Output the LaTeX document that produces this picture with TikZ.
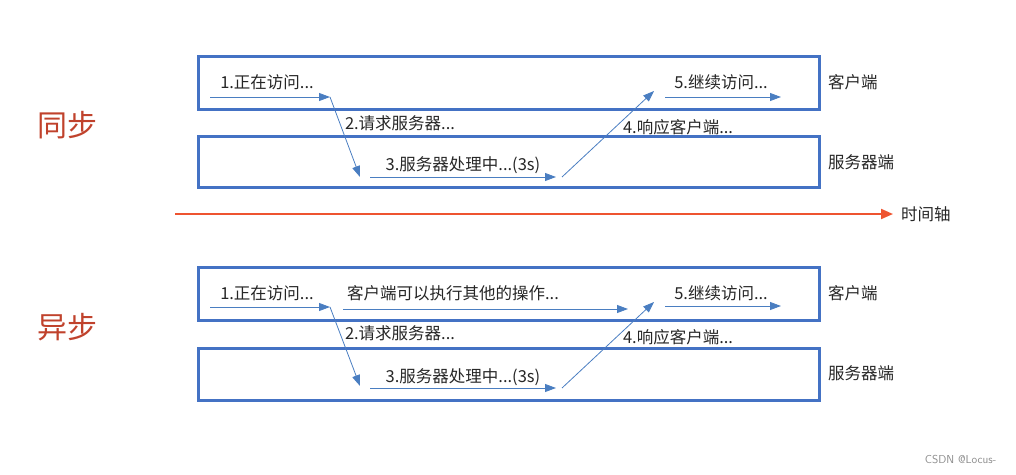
\documentclass[tikz,border=0pt]{standalone}
\usepackage{fontspec}
\newfontfamily\cjk{Noto Sans CJK SC}
\usetikzlibrary{arrows.meta}
\definecolor{laneblue}{RGB}{68,114,196}
\definecolor{flowblue}{RGB}{74,126,193}
\definecolor{axisred}{RGB}{238,84,48}
\definecolor{titlered}{RGB}{192,66,44}
\definecolor{textgray}{RGB}{38,38,38}

\begin{document}
\begin{tikzpicture}[x=1pt, y=-1pt,
                    lane/.style={draw=laneblue, line width=3pt, anchor=north west,
                                 inner sep=0pt, minimum width=621pt},
                    lbl/.style={font=\cjk\fontsize{16.5}{18}\selectfont, text=textgray, inner sep=0pt},
                    side/.style={lbl, anchor=west},
                    title/.style={font=\cjk\fontsize{30}{34}\selectfont, text=titlered, inner sep=0pt},
                    flow/.style={draw=flowblue, line width=0.8pt,
                                 -{Triangle[length=11pt,width=8pt,fill=flowblue]}}]

  \useasboundingbox (0,0) rectangle (1016,474);

  % synchronous
  \node[title] (sync) at (67,125) {同步};
  \node[lane, minimum height=53pt] (client1) at (197,55) {};
  \node[lane, minimum height=51pt] (server1) at (197,135) {};
  \node[side] (cname1) at (828,82) {客户端};
  \node[side] (sname1) at (828,162) {服务器端};

  \node[lbl] (visit1) at (267,82) {1.正在访问...};
  \node[lbl] (ask1) at (400,123) {2.请求服务器...};
  \node[lbl] (work1) at (463,165) {3.服务器处理中...(3s)};
  \node[lbl] (reply1) at (678,127) {4.响应客户端...};
  \node[lbl] (again1) at (721,82) {5.继续访问...};

  \coordinate (p1) at (210,97);
  \coordinate (p2) at (330,97);
  \coordinate (p3) at (360,177);
  \coordinate (p4) at (370,177);
  \coordinate (p5) at (556,177);
  \coordinate (p6) at (562,177);
  \coordinate (p7) at (654,91);
  \coordinate (p8) at (665,97);
  \coordinate (p9) at (781,97);

  \path
    (p1) edge[flow] (p2)
    (p2) edge[flow] (p3)
    (p4) edge[flow] (p5)
    (p6) edge[flow] (p7)
    (p8) edge[flow] (p9);

  % time axis
  \coordinate (t0) at (175,214);
  \coordinate (t1) at (893,214);
  \node[side, anchor=west] (axis) at (901,214) {时间轴};
  \draw[draw=axisred, line width=2pt, -{Triangle[length=12pt,width=10pt,fill=axisred]}] (t0) -- (t1);

  % asynchronous
  \node[title] (async) at (67,327) {异步};
  \node[lane, minimum height=53pt] (client2) at (197,266) {};
  \node[lane, minimum height=52pt] (server2) at (197,347) {};
  \node[side] (cname2) at (828,293) {客户端};
  \node[side] (sname2) at (828,373) {服务器端};

  \node[lbl] (visit2) at (267,293) {1.正在访问...};
  \node[lbl] (other2) at (453,293) {客户端可以执行其他的操作...};
  \node[lbl] (ask2) at (400,333) {2.请求服务器...};
  \node[lbl] (work2) at (463,377) {3.服务器处理中...(3s)};
  \node[lbl] (reply2) at (678,337) {4.响应客户端...};
  \node[lbl] (again2) at (721,293) {5.继续访问...};

  \coordinate (q1) at (210,307);
  \coordinate (q2) at (330,307);
  \coordinate (q3) at (360,386);
  \coordinate (q4) at (370,388);
  \coordinate (q5) at (556,388);
  \coordinate (q6) at (562,388);
  \coordinate (q7) at (654,302);
  \coordinate (q8) at (665,306);
  \coordinate (q9) at (781,306);
  \coordinate (o1) at (343,309);
  \coordinate (o2) at (628,309);

  \path
    (q1) edge[flow] (q2)
    (q2) edge[flow] (q3)
    (q4) edge[flow] (q5)
    (q6) edge[flow] (q7)
    (q8) edge[flow] (q9)
    (o1) edge[flow] (o2);

  \node[font=\sffamily\fontsize{11.5}{13}\selectfont, text=black!45, anchor=east] (mark) at (1000,460) {CSDN @Locus-};
\end{tikzpicture}
\end{document}
